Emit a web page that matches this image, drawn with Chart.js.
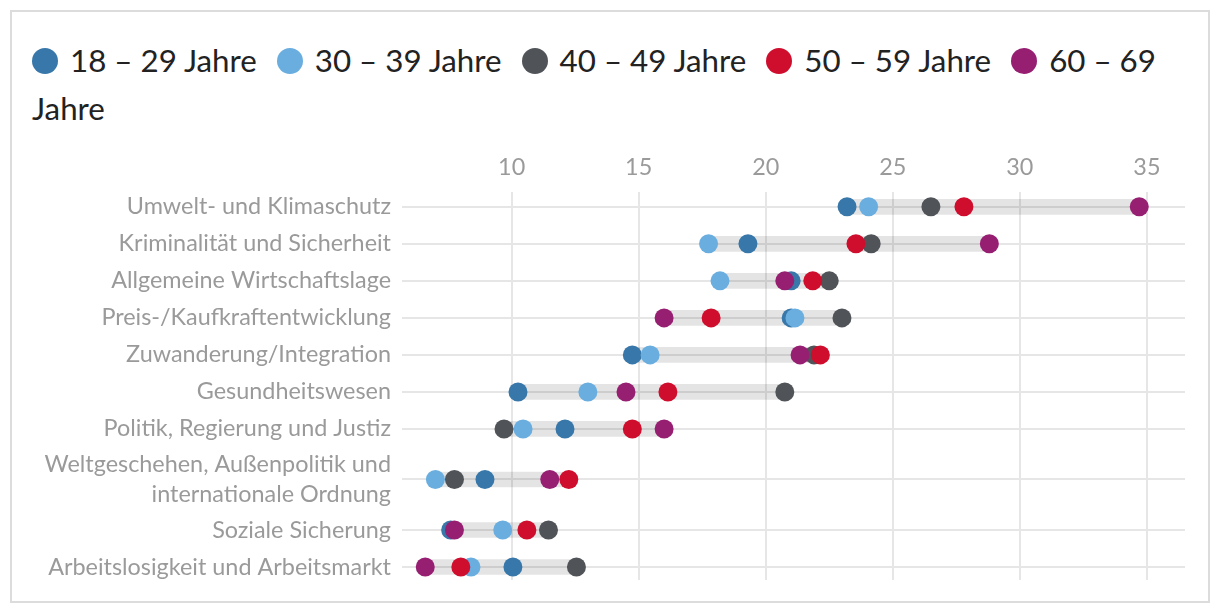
<!DOCTYPE html>
<html lang="de">
<head>
<meta charset="utf-8">
<script src="https://cdn.jsdelivr.net/npm/chart.js@4.4.1/dist/chart.umd.min.js"></script>
<style>
  html, body { margin: 0; padding: 0; background: #fff; }
  body { width: 1220px; height: 614px; position: relative; overflow: hidden; font-family: Lato, "Noto Sans", sans-serif; }
  #frame { position: absolute; left: 10px; top: 10px; width: 1200px; height: 593px; border: 2px solid #dcdcdc; box-sizing: border-box; }
  #legend { position: absolute; left: 32px; top: 36px; width: 1172px; font-size: 31.3px; line-height: 48px; color: #222; }
  #legend .dot { display: inline-block; width: 26px; height: 26px; border-radius: 50%; vertical-align: middle; margin-right: 12px; position: relative; top: -3px; }
  #legend .txt { margin-right: 20px; }
  #wrap { position: absolute; left: 12px; top: 130px; width: 1196px; height: 470px; }
</style>
</head>
<body>
<div id="frame"></div>
<div id="legend"></div>
<div id="wrap"><canvas id="c"></canvas></div>
<script>
// ---- data ----
const categories = [
  "Umwelt- und Klimaschutz",
  "Kriminalität und Sicherheit",
  "Allgemeine Wirtschaftslage",
  "Preis-/Kaufkraftentwicklung",
  "Zuwanderung/Integration",
  "Gesundheitswesen",
  "Politik, Regierung und Justiz",
  ["Weltgeschehen, Außenpolitik und", "internationale Ordnung"],
  "Soziale Sicherung",
  "Arbeitslosigkeit und Arbeitsmarkt"
];
const seriesNames = ["18 – 29 Jahre", "30 – 39 Jahre", "40 – 49 Jahre", "50 – 59 Jahre", "60 – 69 Jahre"];
const age18to29 = [23.2, 19.3, 21.0, 21.0, 14.75, 10.25, 12.1, 8.95, 7.6, 10.05];
const age30to39 = [24.05, 17.75, 18.2, 21.15, 15.45, 13.0, 10.45, 7.0, 9.65, 8.4];
const age40to49 = [26.5, 24.15, 22.5, 23.0, 21.9, 20.75, 9.7, 7.75, 11.45, 12.55];
const age50to59 = [27.8, 23.55, 21.85, 17.85, 22.15, 16.15, 14.75, 12.25, 10.6, 8.0];
const age60to69 = [34.7, 28.8, 20.75, 16.0, 21.35, 14.5, 16.0, 11.5, 7.75, 6.6];
const xTickValues = [10, 15, 20, 25, 30, 35];

// ---- styling ----
const colors = ["#3877a9", "#6aaee0", "#505458", "#cf0e2e", "#961f72"];
const drawOrder = [5, 4, 3, 1, 2]; // lower = drawn on top
const seriesValues = [age18to29, age30to39, age40to49, age50to59, age60to69];

// row positions derived from label line counts (multi-line labels get taller rows)
const rowH = categories.map(c => 1 + 0.73 * ((Array.isArray(c) ? c.length : 1) - 1));
const rowPos = [];
categories.forEach((c, i) => { rowPos.push(i === 0 ? 0 : rowPos[i - 1] + (rowH[i - 1] + rowH[i]) / 2); });

const ranges = categories.map((c, i) => {
  const vals = seriesValues.map(s => s[i]);
  return { x: [Math.min(...vals), Math.max(...vals)], y: rowPos[i] };
});

const datasets = seriesValues.map((vals, si) => ({
  type: 'scatter',
  label: seriesNames[si],
  data: vals.map((v, i) => ({ x: v, y: rowPos[i] })),
  backgroundColor: colors[si],
  borderColor: colors[si],
  pointRadius: 9.5,
  pointHoverRadius: 9.5,
  pointBorderWidth: 0,
  order: drawOrder[si]
}));
datasets.push({
  type: 'bar',
  label: 'range',
  indexAxis: 'y',
  data: ranges,
  backgroundColor: 'rgba(0,0,0,0.105)',
  borderWidth: 0,
  barThickness: 15,
  order: 10
});

// HTML legend (wraps like the reference)
const legendEl = document.getElementById('legend');
seriesNames.forEach((n, i) => {
  const dot = document.createElement('span');
  dot.className = 'dot';
  dot.style.background = colors[i];
  const t = document.createElement('span');
  t.className = 'txt';
  t.textContent = n;
  legendEl.appendChild(dot);
  legendEl.appendChild(t);
});

const gridColor = '#e6e6e6';
const labelFont = { family: 'Lato', size: 23.4, lineHeight: 1.3 };

new Chart(document.getElementById('c'), {
  type: 'scatter',
  data: { datasets },
  options: {
    responsive: true,
    maintainAspectRatio: false,
    animation: false,
    events: [],
    layout: { padding: { left: 0, right: 23, top: 0, bottom: 20 } },
    plugins: { legend: { display: false }, tooltip: { enabled: false } },
    scales: {
      x: {
        type: 'linear',
        position: 'top',
        min: 6,
        max: 36.5,
        offset: false,
        afterBuildTicks: s => { s.ticks = xTickValues.map(v => ({ value: v })); },
        afterFit: s => { s.height = 62; },
        grid: { color: gridColor, lineWidth: 2, drawTicks: false, offset: false },
        border: { display: false },
        ticks: { color: '#9a9a9a', font: labelFont, padding: 9, callback: v => String(v) }
      },
      y: {
        type: 'linear',
        reverse: true,
        min: -0.4,
        max: rowPos[rowPos.length - 1] + 0.35,
        offset: false,
        afterBuildTicks: s => { s.ticks = rowPos.map(v => ({ value: v })); },
        afterFit: s => { s.width = 398; s.paddingTop = 0; s.paddingBottom = 0; },
        grid: { color: gridColor, lineWidth: 2, drawTicks: true, tickLength: 8, offset: false },
        border: { display: false },
        ticks: {
          color: '#9a9a9a',
          font: labelFont,
          padding: 11,
          autoSkip: false,
          callback: (v) => {
            const idx = rowPos.findIndex(p => Math.abs(p - v) < 1e-6);
            return idx >= 0 ? categories[idx] : '';
          }
        }
      }
    }
  }
});
</script>
</body>
</html>
